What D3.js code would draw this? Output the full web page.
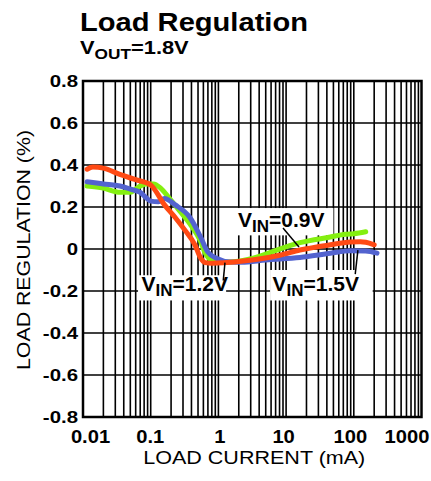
<!DOCTYPE html>
<html><head><meta charset="utf-8">
<script src="https://cdn.jsdelivr.net/npm/d3@7"></script>
<style>
html,body{margin:0;padding:0;background:#fff;}
svg{display:block;}
text{font-family:"Liberation Sans",Arial,sans-serif;fill:#000;}
</style></head>
<body>
<svg id="chart" width="431" height="481"></svg>
<script>
// ---- data ----
const xTickValues = [0.01, 0.1, 1, 10, 100, 1000];
const xTickLabels = ["0.01", "0.1", "1", "10", "100", "1000"];
const yTickValues = [-0.8, -0.6, -0.4, -0.2, 0, 0.2, 0.4, 0.6, 0.8];
const yTickLabels = ["-0.8", "-0.6", "-0.4", "-0.2", "0", "0.2", "0.4", "0.6", "0.8"];

const seriesNames = ["VIN=0.9V", "VIN=1.5V", "VIN=1.2V"];
const seriesColors = ["#84ef10", "#5363cf", "#ff4a14"];

const green09 = [
  [0.0115,0.30],[0.02,0.29],[0.035,0.27],[0.05,0.27],[0.06,0.285],[0.07,0.30],[0.085,0.31],
  [0.11,0.31],[0.14,0.29],[0.19,0.24],[0.27,0.18],[0.38,0.12],[0.54,0.04],[0.64,-0.02],
  [0.8,-0.055],[1.1,-0.063],[2,-0.058],[4,-0.035],[6,-0.015],[16,0.03],[45,0.057],
  [75,0.07],[100,0.073],[150,0.082]
];
const blue15 = [
  [0.0115,0.32],[0.02,0.31],[0.035,0.30],[0.05,0.285],[0.07,0.27],[0.085,0.245],[0.1,0.228],
  [0.13,0.225],[0.16,0.24],[0.23,0.21],[0.38,0.15],[0.54,0.06],[0.7,-0.015],[0.95,-0.045],
  [1.5,-0.062],[2.2,-0.063],[5,-0.052],[16,-0.04],[45,-0.02],[89,-0.008],[150,-0.01],[220,-0.02]
];
const red12 = [
  [0.0115,0.38],[0.014,0.39],[0.02,0.385],[0.035,0.355],[0.06,0.33],[0.1,0.305],[0.16,0.21],
  [0.23,0.15],[0.32,0.09],[0.45,0.02],[0.54,-0.04],[0.64,-0.065],[0.8,-0.068],[1.2,-0.066],
  [2,-0.06],[4,-0.048],[8,-0.03],[16,-0.005],[45,0.02],[89,0.033],[125,0.035],[150,0.032],[200,0.02]
];
const seriesData = [green09, blue15, red12];

// annotations: label anchor (data coords) and leader target (data coords)
const annLabels = ["0.9V", "1.5V", "1.2V"];
const annTextPos = [[1.95, 0.105], [6.3, -0.2], [0.073, -0.2]];   // left-baseline of label
const annLineFrom = [[9.0, 0.10], [105, -0.12], [1.18, -0.15]];
const annLineTo = [[15.5, 0.01], [115, -0.005], [1.25, -0.065]];
const annBoxes = [[1.8, 0.195, 50, 0.065], [5.8, -0.1, 190, -0.245], [0.065, -0.125, 1.3, -0.245]];

// ---- layout ----
const svg = d3.select("#chart");
const L = 83, R = 421.5, T = 81, B = 417;
const x = d3.scaleLog().domain([0.01, 1000]).range([L, R]);
const y = d3.scaleLinear().domain([-0.8, 0.8]).range([B, T]);

function stretch(sel, f) {
  sel.each(function () {
    const w = this.getComputedTextLength();
    d3.select(this).attr("textLength", w * f).attr("lengthAdjust", "spacingAndGlyphs");
  });
}

// grid
const minor = [];
for (let e = -2; e < 3; e++) for (let k = 1; k <= 9; k++) {
  const v = k * Math.pow(10, e);
  if (v > 0.01 && v < 1000) minor.push(v);
}
const g = svg.append("g");
g.selectAll("line.v").data(minor).join("line")
  .attr("x1", d => x(d)).attr("x2", d => x(d))
  .attr("y1", T).attr("y2", B)
  .attr("stroke", "#000").attr("stroke-width", 1.6);
g.selectAll("line.h").data(yTickValues.slice(1, -1)).join("line")
  .attr("x1", L).attr("x2", R)
  .attr("y1", d => y(d)).attr("y2", d => y(d))
  .attr("stroke", "#000").attr("stroke-width", 1.6);

// label boxes (white)
svg.append("g").selectAll("rect").data(annBoxes).join("rect")
  .attr("x", d => x(d[0])).attr("y", d => y(d[1]))
  .attr("width", d => x(d[2]) - x(d[0])).attr("height", d => y(d[3]) - y(d[1]))
  .attr("fill", "#fff");

// frame
svg.append("rect").attr("x", L).attr("y", T).attr("width", R - L).attr("height", B - T)
  .attr("fill", "none").attr("stroke", "#000").attr("stroke-width", 2.5);

// curves
const line = d3.line().x(d => x(d[0])).y(d => y(d[1])).curve(d3.curveMonotoneX);
svg.append("g").selectAll("path").data(seriesData).join("path")
  .attr("d", line).attr("fill", "none")
  .attr("stroke", (d, i) => seriesColors[i])
  .attr("stroke-width", 5).attr("stroke-linecap", "round").attr("stroke-linejoin", "round");

// leader lines
svg.append("g").selectAll("line").data(annLineFrom).join("line")
  .attr("x1", d => x(d[0])).attr("y1", d => y(d[1]))
  .attr("x2", (d, i) => x(annLineTo[i][0])).attr("y2", (d, i) => y(annLineTo[i][1]))
  .attr("stroke", "#000").attr("stroke-width", 1.5);

// annotation text
const ann = svg.append("g").selectAll("text").data(annLabels).join("text")
  .attr("x", (d, i) => x(annTextPos[i][0])).attr("y", (d, i) => y(annTextPos[i][1]))
  .attr("font-size", 21).attr("font-weight", "bold");
ann.append("tspan").text("V");
ann.append("tspan").attr("font-size", 17).attr("dy", 5).text("IN");
ann.append("tspan").attr("dy", -5).text(d => "=" + d);

// axes
const xAxis = svg.append("g").attr("transform", `translate(0,${B})`)
  .call(d3.axisBottom(x).tickValues(xTickValues).tickFormat((d, i) => xTickLabels[i]).tickSize(0).tickPadding(13));
xAxis.select(".domain").remove();
xAxis.selectAll("text").attr("font-size", 18).attr("font-weight", "bold")
  .attr("font-family", "Liberation Sans, Arial, sans-serif").attr("fill", "#000")
  .attr("dx", (d, i) => [7, -1, 1, -3, -4, -15][i]);
stretch(xAxis.selectAll("text"), 1.12);

const yAxis = svg.append("g").attr("transform", `translate(${L},0)`)
  .call(d3.axisLeft(y).tickValues(yTickValues).tickFormat((d, i) => yTickLabels[i]).tickSize(0).tickPadding(5));
yAxis.select(".domain").remove();
yAxis.selectAll("text").attr("font-size", 17).attr("font-weight", "bold")
  .attr("font-family", "Liberation Sans, Arial, sans-serif").attr("fill", "#000");
stretch(yAxis.selectAll("text"), 1.2);

// axis titles
svg.append("text").attr("x", (L + R) / 2 + 2).attr("y", 464).attr("text-anchor", "middle")
  .attr("font-size", 18).attr("textLength", 222).attr("lengthAdjust", "spacingAndGlyphs")
  .text("LOAD CURRENT (mA)");
svg.append("text").attr("transform", `translate(30,250) rotate(-90)`).attr("text-anchor", "middle")
  .attr("font-size", 19).attr("textLength", 240).attr("lengthAdjust", "spacingAndGlyphs")
  .text("LOAD REGULATION (%)");

// title
svg.append("text").attr("x", 80).attr("y", 31).attr("font-size", 26).attr("font-weight", "bold")
  .attr("textLength", 228).attr("lengthAdjust", "spacingAndGlyphs").text("Load Regulation");
const sub = svg.append("text").attr("transform", "translate(80,54) scale(1.15,1)")
  .attr("font-size", 19).attr("font-weight", "bold");
sub.append("tspan").text("V");
sub.append("tspan").attr("font-size", 15).attr("dy", 5).text("OUT");
sub.append("tspan").attr("dy", -5).text("=1.8V");
</script>
</body></html>
